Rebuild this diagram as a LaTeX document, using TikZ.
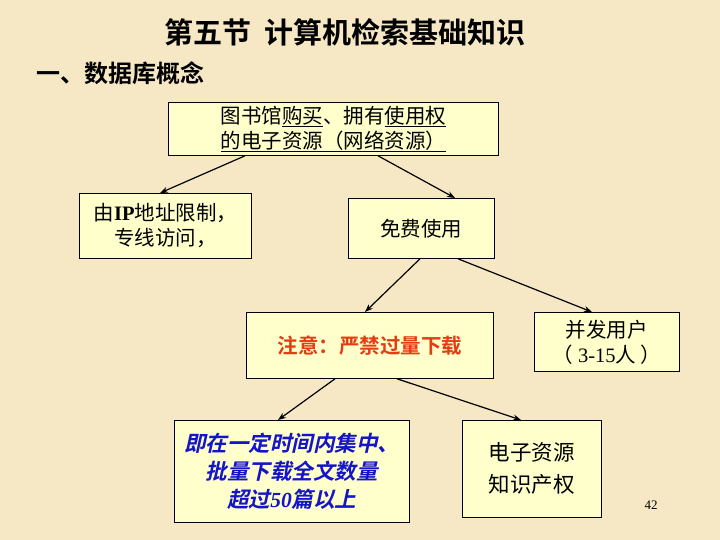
\documentclass[tikz,border=0pt]{standalone}
\usetikzlibrary{arrows.meta}
\usepackage{fontspec}
\setmainfont{Liberation Serif}
\newfontfamily\cjk{Noto Sans CJK SC}
\newfontfamily\cjkb{Noto Sans CJK SC Bold}
\newfontfamily\cjkbi[FakeSlant=0.22]{Noto Sans CJK SC Bold}
\newfontfamily\serifbi{Liberation Serif Bold Italic}
\definecolor{bg}{RGB}{246,232,196}
\definecolor{boxfill}{RGB}{255,255,204}
\definecolor{warn}{RGB}{230,60,20}
\definecolor{navy}{RGB}{20,20,200}
\begin{document}
\begin{tikzpicture}[x=1pt,y=-1pt,
  bx/.style={draw=black,fill=boxfill,line width=0.8pt,anchor=north west,align=center,inner sep=0pt,font=\cjk\fontsize{20.5}{25}\selectfont},
  arr/.style={-{Stealth[length=8pt,width=6pt]},line width=1.2pt}]
\fill[bg] (0,0) rectangle (720,540);
\useasboundingbox (0,0) rectangle (720,540);
\node[font=\cjkb\fontsize{29}{32}\selectfont] (title) at (345,32) {第五节\ \ 计算机检索基础知识};
\node[font=\cjkb\fontsize{24}{28}\selectfont,anchor=west] (sub) at (33,73) {一、数据库概念};
\node[bx,minimum width=330,minimum height=53] (top) at (168,102) {图书馆\underline{购买}、拥有\underline{使用权}\\\underline{的电子资源（网络资源）}};
\node[bx,minimum width=172,minimum height=65] (ip) at (79,193) {由{\rmfamily\bfseries IP}地址限制，\\专线访问，};
\node[bx,minimum width=146,minimum height=60] (free) at (348,198) {免费使用};
\node[bx,minimum width=247,minimum height=66,font=\cjkb\fontsize{20.5}{25}\selectfont,text=warn] (note) at (246,312) {注意：严禁过量下载};
\node[bx,minimum width=145,minimum height=59] (conc) at (534,312) {并发用户\\（{\rmfamily\ 3-15}人\ ）};
\node[bx,minimum width=235,minimum height=102,font=\cjkbi\fontsize{21.5}{28}\selectfont,text=navy] (dl) at (174,420) {即在一定时间内集中、\\批量下载全文数量\\超过{\serifbi 50}篇以上};
\node[bx,minimum width=139,minimum height=97,font=\cjk\fontsize{21.5}{32}\selectfont] (ip2) at (462,420) {电子资源\\知识产权};
\node[font=\rmfamily\fontsize{13}{15}\selectfont] (pg) at (651,505) {42};
\draw[arr] ([xshift=77pt]top.south west) -- ([xshift=81pt]ip.north west);
\draw[arr] ([xshift=210pt]top.south west) -- ([xshift=107pt]free.north west);
\draw[arr] ([xshift=72pt]free.south west) -- ([xshift=119pt]note.north west);
\draw[arr] ([xshift=110pt]free.south west) -- ([xshift=58pt]conc.north west);
\draw[arr] ([xshift=89pt]note.south west) -- ([xshift=104pt]dl.north west);
\draw[arr] ([xshift=151pt]note.south west) -- ([xshift=59pt]ip2.north west);
\end{tikzpicture}
\end{document}
